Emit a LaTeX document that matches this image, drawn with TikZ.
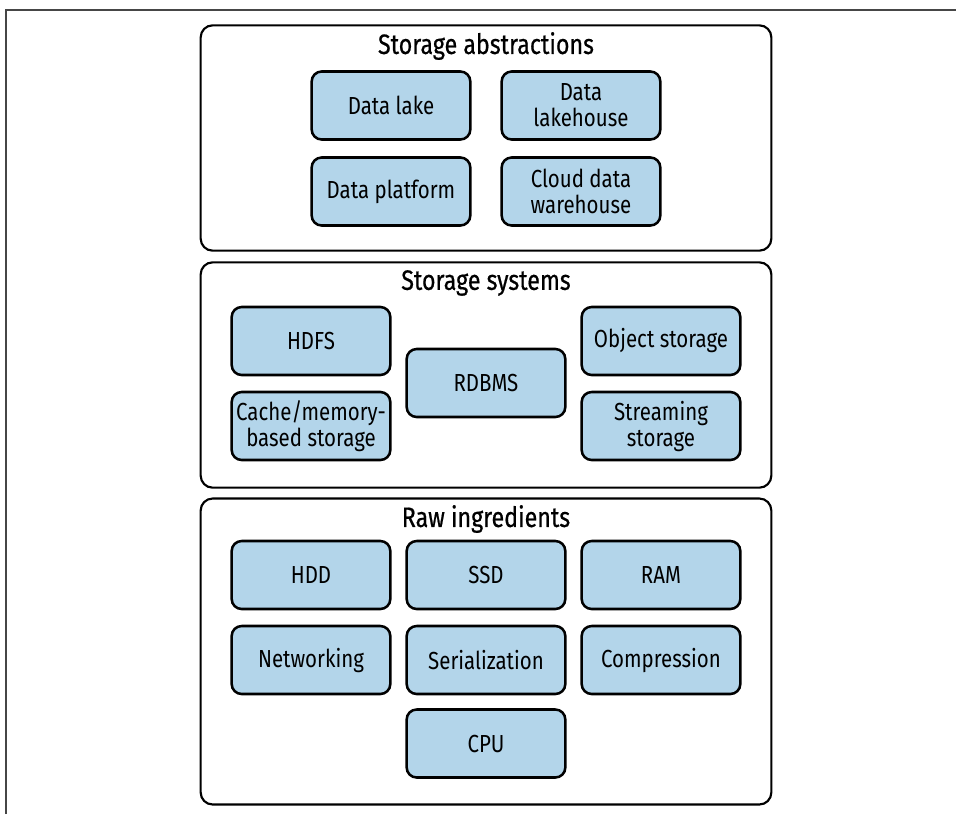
\documentclass[tikz,border=0pt]{standalone}
\usepackage{fontspec}
\setmainfont{Fira Sans}[FakeStretch=0.83]
\newfontfamily\titlefont{Fira Sans}[FakeStretch=0.83,FakeBold=0.6]
\definecolor{boxblue}{RGB}{179,213,234}
\definecolor{framegray}{RGB}{70,70,70}
\begin{document}
\begin{tikzpicture}[x=0.75pt,y=-0.75pt,
  item/.style={draw=black, fill=boxblue, line width=1.9pt, rounded corners=7.5pt,
    minimum width=119pt, minimum height=51pt, inner sep=0pt, align=center,
    font=\fontsize{18.5}{19.5}\selectfont},
  layer/.style={draw=black, line width=1.6pt, rounded corners=9pt, minimum width=428pt, inner sep=0pt},
  ttl/.style={font=\titlefont\fontsize{21}{22}\selectfont, inner sep=0pt}]
\useasboundingbox (0,0) rectangle (956,814);
\coordinate (fl) at (6,814);
\coordinate (fc) at (6,10);
\coordinate (fr) at (956,10);
\draw[framegray, line width=0.9pt] (fl) -- (fc) -- (fr);

% layers
\node[layer, minimum height=169pt] (abs) at (486,138) {};
\node[layer, minimum height=169pt] (sys) at (486,375) {};
\node[layer, minimum height=229.5pt] (raw) at (486,651.5) {};

\node[ttl] (tabs) at (486,46) {Storage abstractions};
\node[ttl] (tsys) at (486,283) {Storage systems};
\node[ttl] (traw) at (486,519) {Raw ingredients};

% storage abstractions
\node[item] (lake) at (391,105.5) {Data lake};
\node[item] (lakehouse) at (581,105.5) {Data\\lakehouse};
\node[item] (platform) at (391,191.5) {Data platform};
\node[item] (cdw) at (581,191.5) {Cloud data\\warehouse};

% storage systems
\node[item] (hdfs) at (311,341) {HDFS};
\node[item] (cache) at (311,426) {Cache/memory-\\based storage};
\node[item] (rdbms) at (486,383) {RDBMS};
\node[item] (obj) at (661,341) {Object storage};
\node[item] (stream) at (661,426) {Streaming\\storage};

% raw ingredients
\node[item] (hdd) at (311,575) {HDD};
\node[item] (ssd) at (486,575) {SSD};
\node[item] (ram) at (661,575) {RAM};
\node[item] (net) at (311,660) {Networking};
\node[item] (ser) at (486,660) {Serialization};
\node[item] (comp) at (661,660) {Compression};
\node[item] (cpu) at (486,743.5) {CPU};
\end{tikzpicture}
\end{document}
